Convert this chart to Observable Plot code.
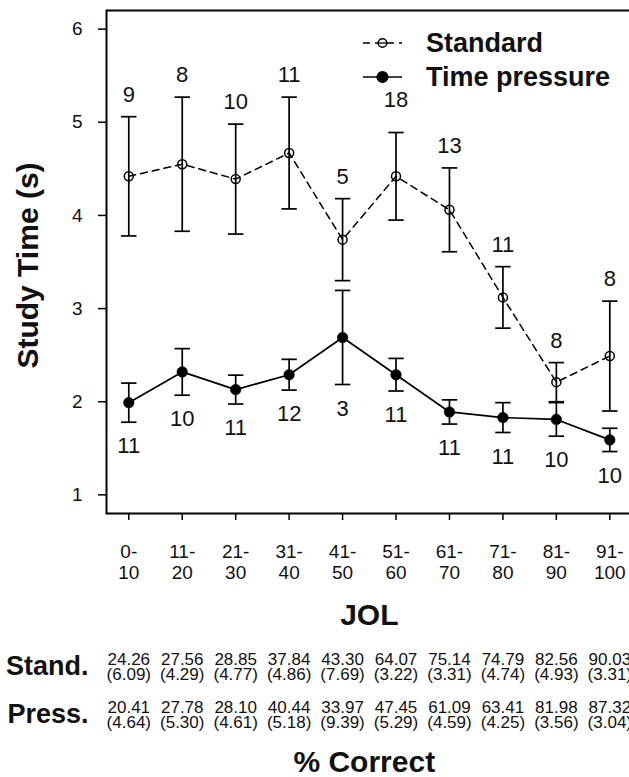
<!DOCTYPE html>
<html><head><meta charset="utf-8">
<script src="https://cdn.jsdelivr.net/npm/d3@7"></script>
<script src="https://cdn.jsdelivr.net/npm/@observablehq/plot@0.6"></script>
<style>
html,body{margin:0;padding:0;background:#fff;overflow:hidden;width:629px;height:777px;}
#chart{width:629px;overflow:hidden;}
#chart svg{display:block;max-width:none;}
</style></head><body><div id="chart"></div>
<script>
// ---- data ----
const jolLabels = ["0-\n10","11-\n20","21-\n30","31-\n40","41-\n50","51-\n60","61-\n70","71-\n80","81-\n90","91-\n100"];
const seriesNames = ["Standard", "Time pressure"];
const stdMean = [4.42, 4.55, 4.39, 4.67, 3.74, 4.42, 4.06, 3.12, 2.21, 2.49];
const stdSE   = [0.64, 0.72, 0.59, 0.60, 0.44, 0.47, 0.45, 0.33, 0.21, 0.59];
const stdN    = [9, 8, 10, 11, 5, 18, 13, 11, 8, 8];
const tpMean  = [1.99, 2.32, 2.13, 2.29, 2.69, 2.29, 1.89, 1.83, 1.81, 1.59];
const tpSE    = [0.21, 0.25, 0.155, 0.165, 0.505, 0.175, 0.13, 0.16, 0.18, 0.125];
const tpN     = [11, 10, 11, 12, 3, 11, 11, 11, 10, 10];
const yTicks  = [1, 2, 3, 4, 5, 6];
const rowNames = ["Stand.", "Press."];
const standPct = [24.26, 27.56, 28.85, 37.84, 43.30, 64.07, 75.14, 74.79, 82.56, 90.03];
const standSD  = [6.09, 4.29, 4.77, 4.86, 7.69, 3.22, 3.31, 4.74, 4.93, 3.31];
const pressPct = [20.41, 27.78, 28.10, 40.44, 33.97, 47.45, 61.09, 63.41, 81.98, 87.32];
const pressSD  = [4.64, 5.30, 4.61, 5.18, 9.39, 5.29, 4.59, 4.25, 3.56, 3.04];

// ---- styling / layout ----
const FONT = "'Liberation Sans', Arial, Helvetica, sans-serif";
const stdLabelRaised = [false, false, false, false, false, true, false, false, false, false]; // label placed higher
const W = 640, ML = 106, MR = 8.4;
const xDomain = [0.583, 10.417];

const std = jolLabels.map((l, i) => ({x: i + 1, mean: stdMean[i], lo: stdMean[i] - stdSE[i], hi: stdMean[i] + stdSE[i], n: stdN[i], raised: stdLabelRaised[i]}));
const tp  = jolLabels.map((l, i) => ({x: i + 1, mean: tpMean[i], lo: tpMean[i] - tpSE[i], hi: tpMean[i] + tpSE[i], n: tpN[i]}));

const capSymbol = {draw(ctx, size) { const w = Math.sqrt(size / Math.PI); ctx.moveTo(-w, 0); ctx.lineTo(w, 0); }};

function legendMark(index, scales, values, dim) {
  const g = d3.create("svg:g").attr("font-family", FONT).attr("text-anchor", "start");
  const x0 = dim.marginLeft + 257, x1 = dim.marginLeft + 296, xc = (x0 + x1) / 2, tx = dim.marginLeft + 320;
  const ys = [dim.marginTop + 33, dim.marginTop + 67];
  seriesNames.forEach((name, i) => {
    const y = ys[i];
    g.append("line").attr("x1", x0).attr("x2", x1).attr("y1", y).attr("y2", y)
      .attr("stroke", "black").attr("stroke-width", i === 0 ? 1.5 : 1.7)
      .attr("stroke-dasharray", i === 0 ? "7,5" : null);
    g.append("circle").attr("cx", xc).attr("cy", y).attr("r", i === 0 ? 4.3 : 5.3)
      .attr("fill", i === 0 ? "white" : "black").attr("stroke", "black").attr("stroke-width", 1.5);
    if (i === 0) g.append("line").attr("x1", xc - 4.3).attr("x2", xc + 4.3).attr("y1", y).attr("y2", y).attr("stroke", "black").attr("stroke-width", 1.3);
    g.append("text").attr("x", tx).attr("y", y).attr("dy", "0.35em").attr("text-anchor", "start")
      .attr("font-size", 27).attr("font-weight", "bold").attr("fill", "#111").text(name);
  });
  return g.node();
}

const main = Plot.plot({
  width: W, height: 635,
  marginLeft: ML, marginRight: MR, marginTop: 10, marginBottom: 122,
  style: {fontFamily: FONT, color: "black", background: "white", maxWidth: "none"},
  x: {domain: xDomain, label: null},
  y: {domain: [0.8, 6.2], label: null},
  marks: [
    Plot.axisX({ticks: std.map(d => d.x), tickFormat: i => jolLabels[i - 1], label: null, tickSize: 7, tickPadding: 22.5, fontSize: 19, lineHeight: 1.12, strokeWidth: 1.5, fill: "#111"}),
    Plot.axisY({ticks: yTicks, tickFormat: d => String(d), label: null, tickSize: 8, tickPadding: 16, fontSize: 19, strokeWidth: 1.5, fill: "#111"}),
    Plot.frame({stroke: "black", strokeWidth: 2}),
    Plot.line(std, {x: "x", y: "mean", stroke: "black", strokeWidth: 1.5, strokeDasharray: "7,5"}),
    Plot.line(tp, {x: "x", y: "mean", stroke: "black", strokeWidth: 1.7}),
    Plot.ruleX(std, {x: "x", y1: "lo", y2: "hi", stroke: "black", strokeWidth: 1.7}),
    Plot.ruleX(tp, {x: "x", y1: "lo", y2: "hi", stroke: "black", strokeWidth: 1.7}),
    Plot.dot(std, {x: "x", y: "lo", symbol: capSymbol, r: 7.7, fill: "none", stroke: "black", strokeWidth: 1.7}),
    Plot.dot(std, {x: "x", y: "hi", symbol: capSymbol, r: 7.7, fill: "none", stroke: "black", strokeWidth: 1.7}),
    Plot.dot(tp, {x: "x", y: "lo", symbol: capSymbol, r: 7.7, fill: "none", stroke: "black", strokeWidth: 1.7}),
    Plot.dot(tp, {x: "x", y: "hi", symbol: capSymbol, r: 7.7, fill: "none", stroke: "black", strokeWidth: 1.7}),
    Plot.dot(std, {x: "x", y: "mean", r: 4.5, fill: "none", stroke: "black", strokeWidth: 1.5}),
    Plot.dot(tp, {x: "x", y: "mean", r: 5.3, fill: "black", stroke: "black", strokeWidth: 0.5}),
    Plot.text(std.filter(d => !d.raised), {x: "x", y: "hi", text: d => String(d.n), dy: -22, fontSize: 22, fill: "#111"}),
    Plot.text(std.filter(d => d.raised), {x: "x", y: "hi", text: d => String(d.n), dy: -33, fontSize: 22, fill: "#111"}),
    Plot.text(tp, {x: "x", y: "lo", text: d => String(d.n), dy: 24, fontSize: 22, fill: "#111"}),
    Plot.text(["JOL"], {frameAnchor: "bottom", lineAnchor: "middle", textAnchor: "middle", dy: 102, fontSize: 30, fontWeight: "bold", fill: "#111"}),
    Plot.text(["Study Time (s)"], {frameAnchor: "left", lineAnchor: "middle", textAnchor: "middle", rotate: -90, dx: -78.5, dy: 3.5, fontSize: 30, fontWeight: "bold", fill: "#111"}),
    legendMark
  ]
});

const tableRows = [];
jolLabels.forEach((l, i) => {
  tableRows.push({x: i + 1, row: rowNames[0], pct: standPct[i], sd: standSD[i]});
  tableRows.push({x: i + 1, row: rowNames[1], pct: pressPct[i], sd: pressSD[i]});
});

const table = Plot.plot({
  width: W, height: 142,
  marginLeft: ML, marginRight: MR, marginTop: 0, marginBottom: 0,
  style: {fontFamily: FONT, color: "black", background: "white", maxWidth: "none"},
  x: {domain: xDomain, axis: null},
  y: {type: "point", domain: rowNames, range: [31, 79], padding: 0, label: null},
  marks: [
    Plot.axisY({tickSize: 0, tickPadding: 18, fontSize: 27, fontWeight: "bold", fill: "#111", label: null}),
    Plot.text(tableRows, {x: "x", y: "row", dy: 1, text: d => `${d.pct.toFixed(2)}\n(${d.sd.toFixed(2)})`, fontSize: 17, lineHeight: 0.87, fill: "#111", ariaLabel: "pct"}),
    Plot.text(["% Correct"], {frameAnchor: "top", lineAnchor: "middle", textAnchor: "middle", dy: 127, dx: -5, fontSize: 30, fontWeight: "bold", fill: "#111"})
  ]
});
d3.select(table).selectAll('g[aria-label="pct"] text').attr("letter-spacing", "0.3px");

document.getElementById("chart").append(main, table);
</script></body></html>
